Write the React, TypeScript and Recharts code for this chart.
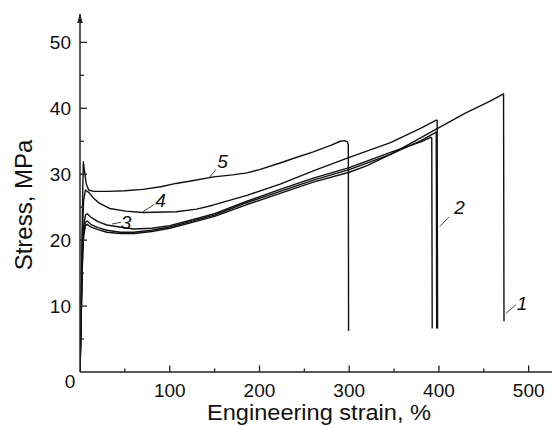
import { LineChart, Line, XAxis, YAxis, ReferenceLine, ReferenceDot } from 'recharts';

const FONT = '"Liberation Sans", Arial, Helvetica, sans-serif';
const INK = '#111';
const AXIS = '#222';

const X_MAX = 526;
const Y_MAX = 54.3;
const xTicks = [50, 100, 150, 200, 250, 300, 350, 400, 450, 500];
const yTicks = [0, 5, 10, 15, 20, 25, 30, 35, 40, 45, 50];

// curve 1 - longest sample, breaks near 472 %
const strain1 = [0, 1, 2, 3, 4, 6, 8, 12, 20, 30, 45, 60, 80, 100, 120, 150, 186, 223, 260, 300, 320, 346, 370, 398, 430, 457, 472, 472.5];
const stress1 = [0, 6, 13, 18, 20.5, 22.2, 22.4, 22, 21.6, 21.2, 21.0, 21.0, 21.3, 21.8, 22.5, 23.6, 25.4, 27.1, 28.8, 30.3, 31.3, 33.0, 34.8, 36.9, 39.3, 41.1, 42.2, 7.7];

// curve 2
const strain2 = [0, 1, 2, 3, 4, 6, 8, 12, 20, 30, 45, 60, 80, 100, 120, 150, 186, 223, 260, 300, 346, 380, 396, 397, 397.5];
const stress2 = [0, 6, 13, 18.5, 21, 22.7, 22.9, 22.4, 21.9, 21.5, 21.2, 21.2, 21.5, 22.0, 22.7, 23.8, 25.7, 27.4, 29.1, 30.7, 33.0, 35.1, 36.3, 36.4, 6.6];

// curve 3
const strain3 = [0, 1, 2, 3, 4, 6, 8, 12, 20, 30, 44, 60, 80, 100, 120, 150, 186, 223, 260, 300, 346, 380, 391, 392, 392.5];
const stress3 = [0, 6, 13, 19, 22, 23.8, 24.0, 23.5, 22.8, 22.3, 22.0, 21.7, 21.8, 22.2, 22.9, 24.0, 25.9, 27.7, 29.4, 31.0, 33.3, 34.9, 35.6, 35.5, 6.6];

// curve 4
const strain4 = [0, 1, 2, 3, 4, 6, 10, 15, 21.5, 33, 51, 70, 107, 130, 148, 186, 223, 260, 297, 346, 380, 397, 398, 398.5];
const stress4 = [0, 7, 15, 22, 26, 27.6, 27.2, 26.4, 25.6, 24.8, 24.4, 24.2, 24.3, 24.7, 25.3, 26.8, 28.5, 30.5, 32.4, 34.8, 37.0, 38.2, 38.2, 6.6];

// curve 5 - yield spike, breaks at 300 %
const strain5 = [0, 1, 2, 3, 3.7, 5, 7, 9.7, 15, 32, 50, 70, 90, 107, 125, 149, 170, 186, 200, 223, 240, 260, 280, 290, 295, 298, 299, 299.3];
const stress5 = [0, 8, 18, 27, 31.9, 30.5, 28.5, 27.6, 27.4, 27.4, 27.5, 27.7, 28.1, 28.6, 29.0, 29.6, 29.9, 30.2, 30.7, 31.7, 32.5, 33.4, 34.4, 35.0, 35.1, 34.9, 34.5, 6.2];

// curve number labels and their leader lines
const labelText = ['1', '2', '3', '4', '5'];
const labelStrain = [492.5, 423, 51.3, 89.7, 158.8];
const labelStress = [10.4, 24.95, 22.75, 26.1, 32.0];
const leaderStrainFrom = [474.6, 401.2, 35.7, 69.9, 144.1];
const leaderStressFrom = [8.9, 22.1, 22.45, 24.3, 29.5];
const leaderStrainTo = [485.9, 411.2, 45.7, 82.7, 151.6];
const leaderStressTo = [10.2, 23.5, 22.7, 25.4, 30.7];

const toPoints = (xs: number[], ys: number[]) => xs.map((x, i) => ({ x, y: ys[i] }));

const curves = [
  toPoints(strain1, stress1),
  toPoints(strain2, stress2),
  toPoints(strain3, stress3),
  toPoints(strain4, stress4),
  toPoints(strain5, stress5),
];

const Y_TICK_MARGIN = 9;

function YTick(props: any) {
  const { x, y, payload } = props;
  const v = payload.value;
  const ax = x + Y_TICK_MARGIN;
  const major = v % 10 === 0;
  return (
    <g>
      {v !== 0 && <line x1={ax} x2={ax + (major ? 7 : 4)} y1={y} y2={y} stroke={AXIS} strokeWidth={1.3} />}
      {major && v === 0 && (
        <text x={ax - 10} y={y + 16.3} textAnchor="middle" fontFamily={FONT} fontSize={19} fill={INK}>0</text>
      )}
      {major && v !== 0 && (
        <text x={x} y={y + 6.8} textAnchor="end" fontFamily={FONT} fontSize={19} fill={INK}>{v}</text>
      )}
    </g>
  );
}

function XTick(props: any) {
  const { x, y, payload } = props;
  const v = payload.value;
  const major = v % 100 === 0;
  return (
    <g>
      <line x1={x} x2={x} y1={y} y2={y - (major ? 6.5 : 3.5)} stroke={AXIS} strokeWidth={1.3} />
      {major && (
        <text x={x} y={y + 24.7} textAnchor="middle" fontFamily={FONT} fontSize={19} fill={INK}>{v}</text>
      )}
    </g>
  );
}

function XTitle(props: any) {
  const vb = props.viewBox || { x: 80, y: 372, width: 472, height: 53 };
  return (
    <text
      x={vb.x + vb.width / 2 + 3}
      y={vb.y + vb.height - 5.5}
      textAnchor="middle"
      fontFamily={FONT}
      fontSize={22}
      fill={INK}
      textLength={224}
      lengthAdjust="spacingAndGlyphs"
    >
      Engineering strain, %
    </text>
  );
}

function YTitle(props: any) {
  const vb = props.viewBox || { x: 0, y: 14, width: 80, height: 358 };
  const cx = vb.x + 32;
  const cy = vb.y + vb.height / 2 + 12;
  return (
    <text
      x={cx}
      y={cy}
      transform={`rotate(-90, ${cx}, ${cy})`}
      textAnchor="middle"
      fontFamily={FONT}
      fontSize={24}
      fill={INK}
    >
      Stress, MPa
    </text>
  );
}

function Arrow(props: any) {
  const { cx, cy } = props;
  return <path d={`M${cx},${cy - 0.5} L${cx - 2.8},${cy + 9} L${cx + 2.8},${cy + 9} Z`} fill={AXIS} />;
}

export default function App() {
  return (
    <div style={{ position: 'absolute', left: 0, top: 0, width: 552, height: 425, background: '#fff' }}>
      <LineChart width={552} height={425} margin={{ top: 14, right: 0, bottom: 0, left: 0 }}>
        <XAxis
          type="number"
          dataKey="x"
          domain={[0, X_MAX]}
          ticks={xTicks}
          interval={0}
          height={53}
          tickSize={0}
          tickMargin={0}
          tickLine={false}
          tick={<XTick />}
          axisLine={{ stroke: AXIS, strokeWidth: 1.5 }}
          allowDataOverflow
          label={<XTitle />}
        />
        <YAxis
          type="number"
          dataKey="y"
          domain={[0, Y_MAX]}
          ticks={yTicks}
          interval={0}
          width={80}
          tickSize={0}
          tickMargin={Y_TICK_MARGIN}
          tickLine={false}
          tick={<YTick />}
          axisLine={{ stroke: AXIS, strokeWidth: 1.5 }}
          allowDataOverflow
          label={<YTitle />}
        />
        {curves.map((pts, i) => (
          <Line
            key={i}
            data={pts}
            dataKey="y"
            type="linear"
            stroke={INK}
            strokeWidth={1.4}
            strokeLinejoin="round"
            dot={false}
            activeDot={false}
            isAnimationActive={false}
          />
        ))}
        {labelText.map((t, i) => (
          <ReferenceLine
            key={'l' + t}
            segment={[
              { x: leaderStrainFrom[i], y: leaderStressFrom[i] },
              { x: leaderStrainTo[i], y: leaderStressTo[i] },
            ]}
            stroke="#333"
            strokeWidth={0.9}
            ifOverflow="visible"
          />
        ))}
        {labelText.map((t, i) => (
          <ReferenceDot
            key={'d' + t}
            x={labelStrain[i]}
            y={labelStress[i]}
            r={0.1}
            fill="none"
            stroke="none"
            ifOverflow="visible"
            label={{ value: t, position: 'center', fontSize: 19, fontStyle: 'italic', fontFamily: FONT, fill: INK }}
          />
        ))}
        <ReferenceDot x={0} y={Y_MAX} r={3} ifOverflow="visible" shape={<Arrow />} />
      </LineChart>
    </div>
  );
}
